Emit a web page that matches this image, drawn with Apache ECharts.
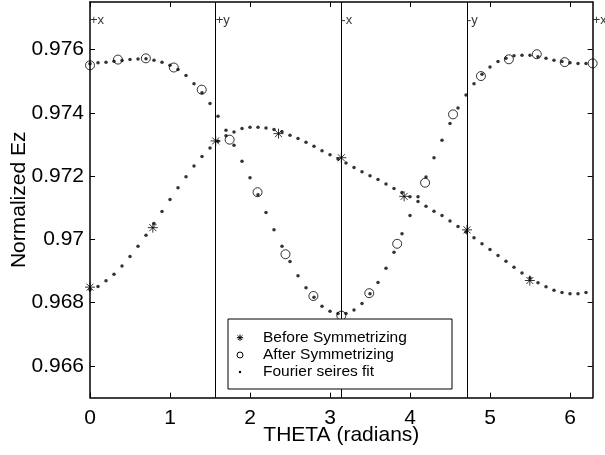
<!DOCTYPE html>
<html>
<head>
<meta charset="utf-8">
<script src="https://cdn.jsdelivr.net/npm/echarts@6/dist/echarts.min.js"></script>
<style>
html,body{margin:0;padding:0;background:#fff;}
#c{width:605px;height:455px;}
</style>
</head>
<body>
<div id="c"></div>
<script>
// ---- data ----
var fitTheta = [0.0,0.1,0.2,0.3,0.4,0.5,0.6,0.7,0.8,0.9,1.0,1.1,1.2,1.3,1.4,1.5,1.6,1.7,1.8,1.9,2.0,2.1,2.2,2.3,2.4,2.5,2.6,2.7,2.8,2.9,3.0,3.1,3.2,3.3,3.4,3.5,3.6,3.7,3.8,3.9,4.0,4.1,4.2,4.3,4.4,4.5,4.6,4.7,4.8,4.9,5.0,5.1,5.2,5.3,5.4,5.5,5.6,5.7,5.8,5.9,6.0,6.1,6.2];
var fitBefore = [0.96841,0.96851,0.96869,0.96890,0.96916,0.96946,0.96978,0.97013,0.97050,0.97088,
  0.97126,0.97163,0.97198,0.97232,0.97262,0.97289,0.97310,0.97327,0.97339,0.97350,
  0.97354,0.97354,0.97352,0.97347,0.97340,0.97329,0.97319,0.97307,0.97294,0.97280,
  0.97267,0.97254,0.97241,0.97227,0.97214,0.97201,0.97189,0.97175,0.97161,0.97148,
  0.97135,0.97120,0.97105,0.97089,0.97075,0.97058,0.97041,0.97023,0.97005,0.96986,
  0.96968,0.96949,0.96931,0.96912,0.96894,0.96878,0.96863,0.96850,0.96839,0.96832,
  0.96828,0.96828,0.96832];
var fitAfter = [0.97555,0.97558,0.97560,0.97563,0.97565,0.97568,0.97570,0.97571,0.97566,0.97560,
  0.97550,0.97537,0.97518,0.97492,0.97463,0.97429,0.97389,0.97345,0.97297,0.97247,
  0.97195,0.97141,0.97085,0.97030,0.96978,0.96930,0.96885,0.96847,0.96817,0.96789,
  0.96773,0.96766,0.96766,0.96777,0.96797,0.96828,0.96864,0.96909,0.96959,0.97018,
  0.97075,0.97135,0.97197,0.97258,0.97313,0.97366,0.97415,0.97456,0.97492,0.97522,
  0.97545,0.97562,0.97572,0.97580,0.97582,0.97582,0.97577,0.97572,0.97566,0.97562,
  0.97558,0.97556,0.97556];
var beforeTheta = [0, Math.PI/4, Math.PI/2, 3*Math.PI/4, Math.PI, 5*Math.PI/4, 3*Math.PI/2, 7*Math.PI/4];
var beforeVals = [0.96849,0.97037,0.97311,0.97334,0.97258,0.97136,0.97030,0.96870];
var afterTheta = [0,1,2,3,4,5,6,7,8,9,10,11,12,13,14,15,16,17,18].map(function(k){return k*Math.PI/9;});
var afterVals = [0.97550,0.97568,0.97572,0.97543,0.97473,0.97315,0.97149,0.96953,0.96821,0.96759,
  0.96830,0.96986,0.97179,0.97395,0.97516,0.97569,0.97585,0.97560,0.97556];
var dividers = [Math.PI/2, Math.PI, 3*Math.PI/2];
var orientTheta = [0, Math.PI/2, Math.PI, 3*Math.PI/2, 2*Math.PI];
var orientText = ['+x','+y','-x','-y','+x'];
var orientLevel = 0.97693;
var xTicks = [0,1,2,3,4,5,6];
var yTicks = [0.966,0.968,0.970,0.972,0.974,0.976];
var legendNames = ['Before Symmetrizing','After Symmetrizing','Fourier seires fit'];

function zip(a,b){ return a.map(function(v,i){ return [v,b[i]]; }); }

var FONT = "'Liberation Sans', Arial, Helvetica, sans-serif";
var starPath = 'path://M0,-5L0,5M-5,0L5,0M-3.5,-3.5L3.5,3.5M-3.5,3.5L3.5,-3.5';

var chart = echarts.init(document.getElementById('c'), null, {renderer:'canvas'});

function baseAxis(pos, showLabels, ticks, isX){
  return {
    type:'value', position:pos,
    min: isX ? 0 : 0.965, max: isX ? 2*Math.PI : 0.9775,
    axisLine:{show:true, onZero:false, lineStyle:{color:'#000', width:1.5}},
    axisTick:{show:true, inside:true, length:5, customValues:ticks, lineStyle:{color:'#000', width:1}},
    axisLabel:{show:showLabels, customValues:ticks, color:'#000', fontSize:21, fontFamily:FONT,
      margin: isX ? 10 : 6,
      formatter:function(v){ return parseFloat(Number(v).toFixed(4)).toString(); }},
    splitLine:{show:false},
    nameMoveOverlap:false
  };
}

var xBottom = baseAxis('bottom', true, xTicks, true);
xBottom.name = 'THETA (radians)';
xBottom.nameLocation = 'middle';
xBottom.nameGap = 27;
xBottom.nameTextStyle = {color:'#000', fontSize:21, fontFamily:FONT};
var xTop = baseAxis('top', false, xTicks, true);
var yLeft = baseAxis('left', true, yTicks, false);
yLeft.name = 'Normalized Ez';
yLeft.nameLocation = 'middle';
yLeft.nameGap = 60;
yLeft.nameTextStyle = {color:'#000', fontSize:21, fontFamily:FONT};
var yRight = baseAxis('right', false, yTicks, false);

var legendFont = '15.5px ' + FONT;
var LX = 228, LY = 319;

var option = {
  animation:false,
  backgroundColor:'#fff',
  grid:{left:90, right:12.35, top:2, bottom:57.4, containLabel:false, outerBoundsMode:'none'},
  xAxis:[xBottom, xTop],
  yAxis:[yLeft, yRight],
  series:[
    { name:legendNames[2], type:'scatter', xAxisIndex:0, yAxisIndex:0,
      symbol:'circle', symbolSize:3.5, itemStyle:{color:'#000'}, z:2,
      data: zip(fitTheta, fitBefore),
      markLine:{ silent:true, symbol:['none','none'], label:{show:false},
        lineStyle:{color:'#000', width:1, type:'solid'},
        data: dividers.map(function(d){ return {xAxis:d}; }) } },
    { name:legendNames[2], type:'scatter', xAxisIndex:0, yAxisIndex:0,
      symbol:'circle', symbolSize:3.5, itemStyle:{color:'#000'}, z:2,
      data: zip(fitTheta, fitAfter) },
    { name:legendNames[0], type:'scatter', symbol:starPath, symbolSize:10, z:3,
      itemStyle:{color:'none', borderColor:'#000', borderWidth:1},
      data: zip(beforeTheta, beforeVals) },
    { name:legendNames[1], type:'scatter', symbol:'circle', symbolSize:9, z:3,
      itemStyle:{color:'rgba(0,0,0,0)', borderColor:'#000', borderWidth:1},
      data: zip(afterTheta, afterVals) },
    { name:'orient', type:'scatter', symbolSize:0, z:4, silent:true,
      data: orientTheta.map(function(t,i){ return {value:[t, orientLevel], name:orientText[i]}; }),
      label:{show:true, position:'right', distance:0, color:'#000', fontSize:13, fontFamily:FONT,
        formatter:function(p){ return p.name; }} }
  ],
  graphic:[
    { type:'rect', x:LX, y:LY, shape:{x:0,y:0,width:224,height:70}, style:{fill:'#fff', stroke:'#000', lineWidth:1}, z:10 },
    { type:'line', shape:{x1:LX+12, y1:LY+15.5, x2:LX+12, y2:LY+21.9}, style:{stroke:'#000', lineWidth:1}, z:11 },
    { type:'line', shape:{x1:LX+8.8, y1:LY+18.7, x2:LX+15.2, y2:LY+18.7}, style:{stroke:'#000', lineWidth:1}, z:11 },
    { type:'line', shape:{x1:LX+9.7, y1:LY+16.4, x2:LX+14.3, y2:LY+21}, style:{stroke:'#000', lineWidth:1}, z:11 },
    { type:'line', shape:{x1:LX+9.7, y1:LY+21, x2:LX+14.3, y2:LY+16.4}, style:{stroke:'#000', lineWidth:1}, z:11 },
    { type:'circle', shape:{cx:LX+12, cy:LY+36, r:3}, style:{fill:'none', stroke:'#000', lineWidth:1}, z:11 },
    { type:'circle', shape:{cx:LX+12, cy:LY+53, r:1.2}, style:{fill:'#000'}, z:11 },
    { type:'text', x:LX+35, y:LY+18.7, style:{text:legendNames[0], fill:'#000', font:legendFont, verticalAlign:'middle'}, z:11 },
    { type:'text', x:LX+35, y:LY+36, style:{text:legendNames[1], fill:'#000', font:legendFont, verticalAlign:'middle'}, z:11 },
    { type:'text', x:LX+35, y:LY+53, style:{text:legendNames[2], fill:'#000', font:legendFont, verticalAlign:'middle'}, z:11 }
  ]
};
chart.setOption(option);
</script>
</body>
</html>
